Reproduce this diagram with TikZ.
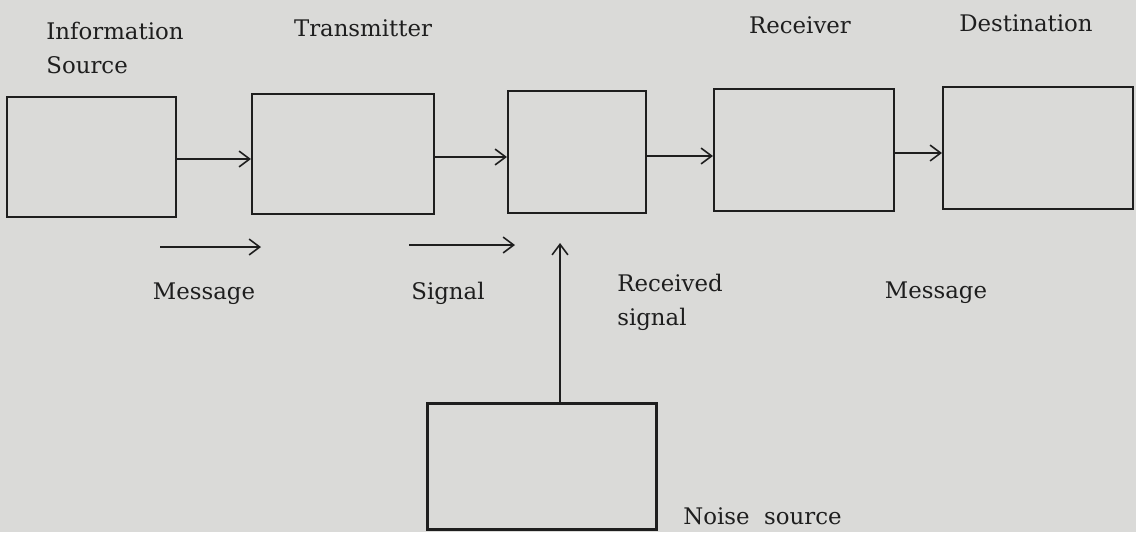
\documentclass[tikz,border=0pt]{standalone}
\usepackage{fontspec}
\setmainfont{DejaVu Serif}
\definecolor{paper}{HTML}{DADAD8}
\definecolor{ink}{HTML}{1E1E1E}
\usetikzlibrary{arrows.meta}

\begin{document}
\begin{tikzpicture}[
  block/.style={draw=ink, line width=1.2pt, inner sep=0pt},
  lbl/.style={text=ink, font=\fontsize{13}{19.5}\selectfont, align=left, inner sep=0pt},
  flow/.style={draw=ink, line width=0.9pt, -{Straight Barb[length=6pt, width=9pt]}},
]
\useasboundingbox (0,0) rectangle (22.72,-10.64);
\fill[paper] (0,0) rectangle (22.72,-10.64);

\node[block, minimum width=3.38cm, minimum height=2.40cm] (src) at (1.83,-3.14) {};
\node[block, minimum width=3.64cm, minimum height=2.40cm] (tx)  at (6.86,-3.08) {};
\node[block, minimum width=2.76cm, minimum height=2.44cm] (ch)  at (11.54,-3.04) {};
\node[block, minimum width=3.60cm, minimum height=2.44cm] (rx)  at (16.08,-3.00) {};
\node[block, minimum width=3.80cm, minimum height=2.44cm] (dst) at (20.76,-2.96) {};
\node[block, line width=1.7pt, minimum width=4.58cm, minimum height=2.52cm] (noise) at (10.83,-9.32) {};

\node[lbl] (srcname) at (2.30,-0.96) {Information\\Source};
\node[lbl] (txname)  at (7.26,-0.56) {Transmitter};
\node[lbl] (rxname)  at (16.00,-0.50) {Receiver};
\node[lbl] (dstname) at (20.52,-0.46) {Destination};
\node[lbl] (msgin)   at (4.08,-5.88) {Message};
\node[lbl] (sig)     at (8.96,-5.86) {Signal};
\node[lbl] (rsig)    at (13.40,-6.04) {Received\\signal};
\node[lbl] (msgout)  at (18.72,-5.86) {Message};
\node[lbl] (noisename) at (15.25,-10.32) {Noise\ \ source};

\coordinate (m0) at (3.20,-4.94);
\coordinate (m1) at (5.22,-4.94);
\coordinate (s0) at (8.18,-4.90);
\coordinate (s1) at (10.30,-4.90);
\coordinate (ntip) at (11.20,-4.86);

\draw[flow] (src.east) ++(0,-0.04) coordinate (a1) -- (a1 -| tx.west);
\draw[flow] (tx.east) ++(0,-0.06) coordinate (a2) -- (a2 -| ch.west);
\draw[flow] (ch.east) ++(0,-0.08) coordinate (a3) -- (a3 -| rx.west);
\draw[flow] (rx.east) ++(0,-0.06) coordinate (a4) -- (a4 -| dst.west);
\draw[flow] (m0) -- (m1);
\draw[flow] (s0) -- (s1);
\draw[flow] (ntip |- noise.north) -- (ntip);
\end{tikzpicture}
\end{document}
